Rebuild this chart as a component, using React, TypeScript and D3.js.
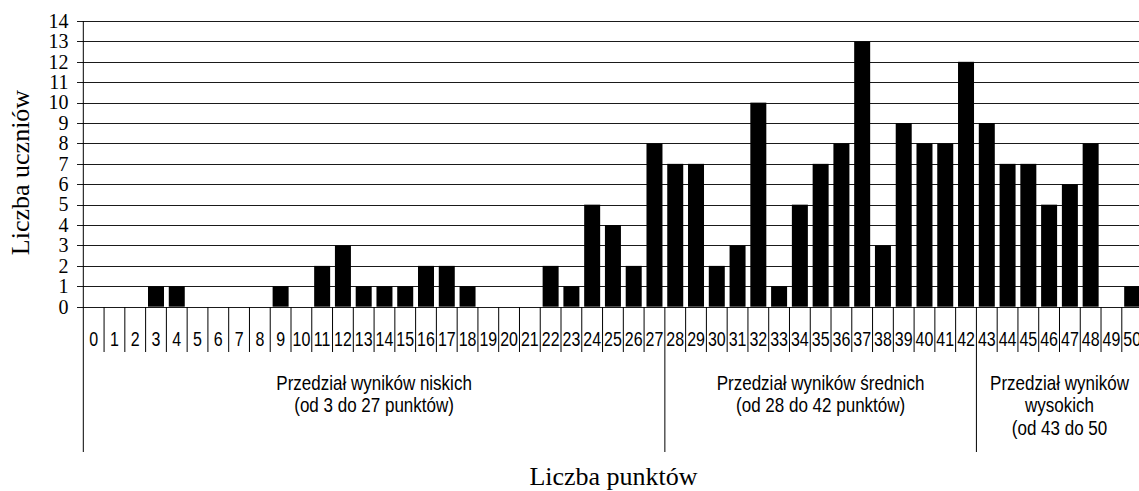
import React from "react";
import * as d3 from "d3";

const categories: string[] = Array.from({ length: 51 }, (_, i) => String(i));
const counts: number[] = [
  0, 0, 0, 1, 1, 0, 0, 0, 0, 1,
  0, 2, 3, 1, 1, 1, 2, 2, 1, 0,
  0, 0, 2, 1, 5, 4, 2, 8, 7, 7,
  2, 3, 10, 1, 5, 7, 8, 13, 3, 9,
  8, 8, 12, 9, 7, 7, 5, 6, 8, 0,
  1,
];
const yTicks: number[] = d3.range(0, 15);
const groupBoundaries: string[] = ["28", "43"];
const groupLabels: { from: string; to: string; lines: string[] }[] = [
  { from: "0", to: "27", lines: ["Przedział wyników niskich", "(od 3 do 27 punktów)"] },
  { from: "28", to: "42", lines: ["Przedział wyników średnich", "(od 28 do 42 punktów)"] },
  { from: "43", to: "50", lines: ["Przedział wyników", "wysokich", "(od 43 do 50"] },
];
const yTitle = "Liczba uczniów";
const xTitle = "Liczba punktów";

const W = 1139;
const H = 491;
const x0 = 83.3;
const step = 20.77;
const x1 = x0 + step * categories.length;

export default function App() {
  const x = d3
    .scaleBand<string>()
    .domain(categories)
    .range([x0, x1])
    .paddingInner(0.23)
    .paddingOuter(0.115);
  const y = d3.scaleLinear().domain([0, 14]).range([306.7, 21]);
  const bandStart = (c: string) => x0 + categories.indexOf(c) * step;
  const serif = "'Liberation Serif', 'Times New Roman', serif";
  const sans = "'Liberation Sans', Arial, sans-serif";

  return (
    <div style={{ position: "absolute", left: 0, top: 0 }}>
      <svg width={W} height={H} style={{ display: "block", background: "#fff" }}>
        {/* gridlines */}
        {yTicks.map((t) => (
          <line
            key={"g" + t}
            x1={77}
            x2={W}
            y1={Math.round(y(t)) + 0.5}
            y2={Math.round(y(t)) + 0.5}
            stroke="#1a1a1a"
            strokeWidth={1}
          />
        ))}
        {/* y tick labels */}
        {yTicks.map((t) => (
          <text
            key={"yl" + t}
            x={68.5}
            y={y(t) + 6.8}
            textAnchor="end"
            fontFamily={serif}
            fontSize={20}
            fill="#000"
          >
            {t}
          </text>
        ))}
        {/* bars */}
        {categories.map((c, i) => (
          <rect
            key={"b" + c}
            x={x(c)}
            y={y(counts[i])}
            width={x.bandwidth()}
            height={y(0) - y(counts[i])}
            fill="#000"
          />
        ))}
        {/* y axis */}
        <line x1={x0} x2={x0} y1={21} y2={452} stroke="#000" strokeWidth={1} />
        {/* category separators */}
        {categories.slice(1).map((c) => (
          <line
            key={"s" + c}
            x1={bandStart(c)}
            x2={bandStart(c)}
            y1={307}
            y2={groupBoundaries.includes(c) ? 452 : 352}
            stroke="#000"
            strokeWidth={1}
          />
        ))}
        {/* category labels */}
        {categories.map((c) => {
          const cx = bandStart(c) + step / 2;
          return (
            <text
              key={"cl" + c}
              transform={`translate(${cx},345.5) scale(0.78,1)`}
              textAnchor="middle"
              fontFamily={sans}
              fontSize={20.5}
              fill="#000"
            >
              {c}
            </text>
          );
        })}
        {/* group labels */}
        {groupLabels.map((g) => {
          const a = bandStart(g.from);
          const b = bandStart(g.to) + step;
          const cx = (a + b) / 2;
          return g.lines.map((ln, j) => (
            <text
              key={"gl" + g.from + j}
              transform={`translate(${cx},${389.5 + j * 22.8}) scale(0.81,1)`}
              textAnchor="middle"
              fontFamily={sans}
              fontSize={21}
              fill="#000"
            >
              {ln}
            </text>
          ));
        })}
        {/* axis titles */}
        <text
          transform={`translate(29,172.5) rotate(-90)`}
          textAnchor="middle"
          fontFamily={serif}
          fontSize={26}
          fill="#000"
        >
          {yTitle}
        </text>
        <text
          x={613.5}
          y={484.5}
          textAnchor="middle"
          fontFamily={serif}
          fontSize={26}
          fill="#000"
        >
          {xTitle}
        </text>
      </svg>
    </div>
  );
}
